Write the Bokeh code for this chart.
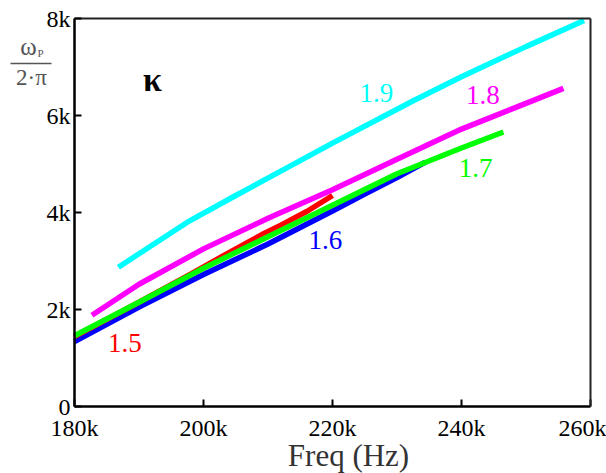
from bokeh.plotting import figure
from bokeh.models import FixedTicker, Label, LinearAxis, Range1d, BoxAnnotation
from bokeh.embed import file_html
from bokeh.resources import INLINE

# ---- data (frequency in kHz, omega_p/2pi in k) ----
f_16 = [180, 190, 200, 210, 220, 225, 230, 234.4]
v_16 = [1.34, 2.05, 2.72, 3.35, 4.03, 4.38, 4.72, 5.04]

f_15 = [180, 190, 198, 202, 206, 209, 212, 216, 220]
v_15 = [1.44, 2.15, 2.73, 3.03, 3.32, 3.54, 3.74, 4.02, 4.35]

f_17 = [180, 190, 200, 210, 220, 230, 240, 246.5]
v_17 = [1.46, 2.15, 2.85, 3.50, 4.15, 4.80, 5.33, 5.66]

f_18 = [182.7, 190, 200, 210, 220, 230, 240, 250, 255.8]
v_18 = [1.88, 2.52, 3.25, 3.88, 4.47, 5.10, 5.72, 6.25, 6.56]

f_19 = [186.8, 190, 197.5, 205, 212.2, 220, 232.6, 240, 250, 259]
v_19 = [2.87, 3.15, 3.80, 4.35, 4.87, 5.43, 6.31, 6.80, 7.42, 7.96]

x_ticks = [180, 200, 220, 240, 260]
x_tick_labels = ["180k", "200k", "220k", "240k", "260k"]
y_ticks = [0, 2, 4, 6, 8]
y_tick_labels = ["0", "2k", "4k", "6k", "8k"]

series = [
    (f_16, v_16, "#0000FF", "1.6", 218.9, 3.44),
    (f_15, v_15, "#FF0000", "1.5", 187.8, 1.30),
    (f_17, v_17, "#00FF00", "1.7", 242.2, 4.91),
    (f_18, v_18, "#FF00FF", "1.8", 243.3, 6.43),
    (f_19, v_19, "#00FFFF", "1.9", 226.8, 6.47),
]

SERIF = "'Liberation Serif'"

W, H = 606, 473
# where the data box sits on the canvas (pixels)
BL, BR, BT, BB = 74, 590, 18, 406
x0, x1, y0, y1 = 180, 260, 0, 8
def dx(px):
    return x0 + (px - BL) / (BR - BL) * (x1 - x0)
def dy(py):
    return y1 - (py - BT) / (BB - BT) * (y1 - y0)

p = figure(width=W, height=H, output_backend="svg", toolbar_location=None,
           x_range=Range1d(dx(0), dx(W)), y_range=Range1d(dy(H), dy(0)),
           x_axis_type=None, y_axis_type=None,
           min_border=0)
p.grid.visible = False
p.outline_line_color = None
p.background_fill_color = "white"
p.border_fill_color = "white"

xax = LinearAxis(fixed_location=y0, bounds=(x0, x1), ticker=FixedTicker(ticks=x_ticks))
yax = LinearAxis(fixed_location=x0, bounds=(y0, y1), ticker=FixedTicker(ticks=y_ticks))
xax.major_label_overrides = dict(zip(x_ticks, x_tick_labels))
yax.major_label_overrides = dict(zip(y_ticks, y_tick_labels))
xax.major_label_standoff = 8
yax.major_label_standoff = 4
for ax in (xax, yax):
    ax.axis_line_width = 2.5
    ax.axis_line_color = "black"
    ax.major_tick_in = 7
    ax.major_tick_out = 0
    ax.major_tick_line_width = 2
    ax.minor_tick_line_color = None
    ax.major_label_text_font = SERIF
    ax.major_label_text_font_size = "24px"
    ax.major_label_text_color = "black"
p.add_layout(xax, "below")
p.add_layout(yax, "left")

# top and right sides of the box
top = LinearAxis(fixed_location=y1, bounds=(x0, x1), ticker=FixedTicker(ticks=[]),
                 major_label_text_font_size="0px")
right = LinearAxis(fixed_location=x1, bounds=(y0, y1), ticker=FixedTicker(ticks=[]),
                   major_label_text_font_size="0px")
for ax in (top, right):
    ax.axis_line_width = 2
    ax.axis_line_color = "#222222"
    ax.minor_tick_line_color = None
    ax.major_tick_line_color = None
p.add_layout(top, "above")
p.add_layout(right, "right")

for fx, vy, col, lab, lx, ly in series:
    p.line(fx, vy, line_color=col, line_width=5.5)
    p.add_layout(Label(x=lx, y=ly, text=lab, text_color=col, text_font=SERIF,
                       text_font_size="27px", text_align="center", text_baseline="middle"))

p.add_layout(Label(x=dx(152), y=dy(79), text="κ", text_color="black", text_font=SERIF,
                   text_font_style="bold", text_font_size="34px",
                   text_align="center", text_baseline="middle"))

# y-axis label as a fraction: omega_P / (2·pi)
p.add_layout(Label(x=dx(28), y=dy(46), text="ω", text_color="#555555", text_font=SERIF,
                   text_font_size="25px", text_align="center", text_baseline="middle"))
p.add_layout(Label(x=dx(40), y=dy(52), text="P", text_color="#555555", text_font=SERIF,
                   text_font_size="11px", text_align="center", text_baseline="middle"))
p.add_layout(BoxAnnotation(left=dx(10), right=dx(51), top=dy(62.2), bottom=dy(63.8),
                           fill_color="#555555", fill_alpha=1, line_color=None))
p.add_layout(Label(x=dx(31), y=dy(77), text="2·π", text_color="#555555", text_font=SERIF,
                   text_font_size="23px", text_align="center", text_baseline="middle"))

# x-axis label
p.add_layout(Label(x=dx(348), y=dy(455), text="Freq (Hz)", text_color="#333333", text_font=SERIF,
                   text_font_size="31px", text_align="center", text_baseline="middle"))

open("out.html", "w").write(file_html(p, INLINE))
